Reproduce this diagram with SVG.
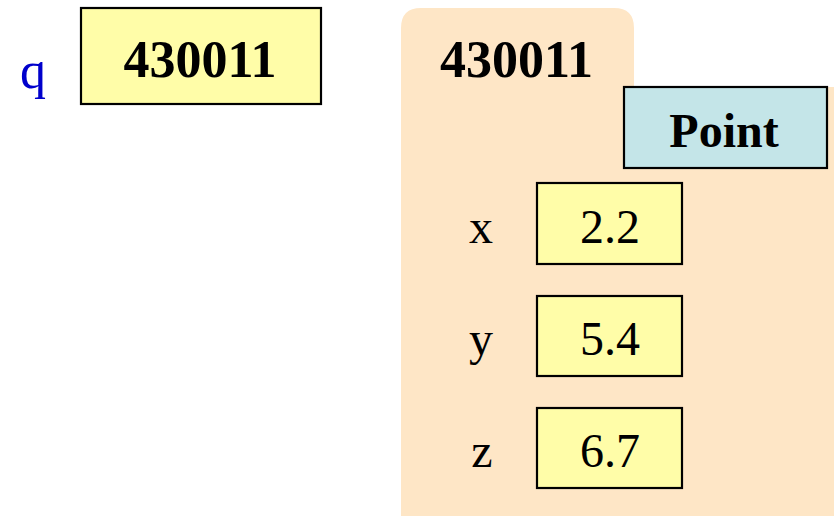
<svg xmlns="http://www.w3.org/2000/svg" width="834" height="516" viewBox="0 0 834 516">
  <style>
    .cell { fill: #FFFDA8; stroke: #000; stroke-width: 2.2; }
    .cls { fill: #C4E5E8; stroke: #000; stroke-width: 2.2; }
    .folder { fill: #FEE6C6; }
    .t { font-family: "Liberation Serif", "Times New Roman", serif; fill: #000; }
    .b { font-weight: bold; font-size: 52px; text-anchor: middle; }
    .v { font-size: 48px; text-anchor: middle; }
    .var { fill: #0000CC; font-size: 52px; }
  </style>

  <!-- heap object folder -->
  <g id="folder">
    <path class="folder" d="M401 516 V28 Q401 8 421 8 H614 Q634 8 634 28 V87 H834 V516 Z"/>
    <text class="t b" x="516.5" y="77">430011</text>
  </g>

  <!-- variable q -->
  <g id="var-q">
    <text class="t var" x="20" y="88">q</text>
    <rect class="cell" x="81" y="8" width="240" height="96"/>
    <text class="t b" x="200" y="77">430011</text>
  </g>

  <!-- class name tab -->
  <g id="class-point">
    <rect class="cls" x="624" y="87" width="203" height="81"/>
    <text class="t b" x="724" y="147" style="font-size:48px">Point</text>
  </g>

  <!-- fields -->
  <g id="field-x">
    <text class="t v" x="481" y="243">x</text>
    <rect class="cell" x="537" y="183" width="145" height="81"/>
    <text class="t v" x="610" y="243">2.2</text>
  </g>
  <g id="field-y">
    <text class="t v" x="481" y="355">y</text>
    <rect class="cell" x="537" y="296" width="145" height="80"/>
    <text class="t v" x="610" y="355">5.4</text>
  </g>
  <g id="field-z">
    <text class="t v" x="482" y="467">z</text>
    <rect class="cell" x="537" y="408" width="145" height="80"/>
    <text class="t v" x="610" y="467">6.7</text>
  </g>

  <g id="connectors"></g>
</svg>
